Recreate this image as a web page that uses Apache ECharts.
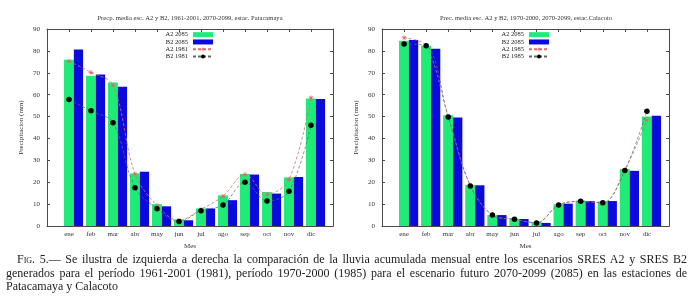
<!DOCTYPE html>
<html>
<head>
<meta charset="utf-8">
<script src="https://cdn.jsdelivr.net/npm/echarts@6/dist/echarts.min.js"></script>
<style>
  html, body { margin: 0; padding: 0; background: #fff; }
  #wrap { position: relative; width: 698px; height: 297px; overflow: hidden; }
  #chart { position: absolute; left: 0; top: 0; width: 698px; height: 297px; }
  #caption {
    position: absolute; left: 6px; top: 253px; width: 681px;
    font-family: 'Liberation Serif', serif; font-size: 12px; line-height: 13.5px; color: #222;
  }
  #caption .j { text-align: justify; text-align-last: justify; white-space: nowrap; }
  #caption .fig { font-variant: small-caps; }
</style>
</head>
<body>
<div id="wrap">
  <div id="chart"></div>
  <div id="caption">
    <div class="j" style="padding-left: 11px"><span class="fig">Fig. 5.</span>— Se ilustra de izquierda a derecha la comparación de la lluvia acumulada mensual entre los escenarios SRES A2 y SRES B2</div>
    <div class="j">generados para el período 1961-2001 (1981), período 1970-2000 (1985) para el escenario futuro 2070-2099 (2085) en las estaciones de</div>
    <div>Patacamaya y Calacoto</div>
  </div>
</div>
<script>
  const months = ['ene', 'feb', 'mar', 'abr', 'may', 'jun', 'jul', 'ago', 'sep', 'oct', 'nov', 'dic']
  const yTicks = [0, 10, 20, 30, 40, 50, 60, 70, 80, 90]

  // Patacamaya
  const patA2_2085 = [76, 68.6, 65.6, 24, 10, 3, 8, 14, 23.8, 15.5, 22.2, 58.2]
  const patB2_2085 = [80.6, 69.2, 63.6, 24.8, 9, 2.6, 8, 11.8, 23.5, 14.8, 22.4, 58]
  const patA2_1981 = [75.3, 70.2, 64.3, 23.8, 9.4, 2.5, 7.6, 13.6, 23.6, 14.5, 21.3, 58.6]
  const patB2_1981 = [57.8, 52.6, 47.2, 17.5, 7.9, 2, 7, 9.6, 20, 11.4, 15.9, 46]

  // Calacoto
  const calA2_2085 = [84.6, 82.4, 50.6, 18.8, 5, 3.3, 1.8, 10, 11.6, 11.2, 26, 50]
  const calB2_2085 = [85, 81, 49.6, 18.6, 5, 3.2, 1.4, 10.2, 11.4, 11.4, 25.2, 50.4]
  const calA2_1985 = [86, 82.2, 50, 18.5, 5, 3, 1.5, 9.6, 11.2, 10.6, 25.5, 48.5]
  const calB2_1985 = [83.2, 82.3, 49.8, 18.3, 5, 3.1, 1.4, 9.6, 11.3, 10.6, 25.4, 52.4]

  const GREEN = '#1fec76'
  const BLUE = '#0a0adc'
  const RED = '#e06a6a'
  const FONT = 'Liberation Serif'
  const AX = '#4a4a4a'
  const STAR = 'path://M-0.6,-5H0.6V5H-0.6Z M-5,-0.6H5V0.6H-5Z M-3.9,-3.1L-3.1,-3.9L3.9,3.1L3.1,3.9Z M3.1,-3.9L3.9,-3.1L-3.1,3.9L-3.9,3.1Z'

  const toXY = arr => arr.map((v, i) => [i, v])

  function barRender (lo, hi) {
    return function (params, api) {
      const x = api.value(0)
      const p0 = api.coord([x + lo, 0])
      const p1 = api.coord([x + hi, api.value(1)])
      return {
        type: 'rect',
        shape: { x: p0[0], y: p1[1], width: p1[0] - p0[0], height: p0[1] - p1[1] },
        style: api.style(),
      }
    }
  }

  const grids = [
    { left: 47, top: 29, width: 286, height: 197 },
    { left: 382, top: 29, width: 287, height: 197 },
  ]

  const xAxes = []
  const yAxes = []
  grids.forEach((g, gi) => {
    const base = {
      gridIndex: gi, type: 'value', min: -1, max: 12, interval: 1,
      axisLine: { show: true, onZero: false, lineStyle: { color: AX, width: 1 } },
      axisTick: { show: true, inside: true, length: 3, lineStyle: { color: AX } },
      splitLine: { show: false },
    }
    xAxes.push(Object.assign({}, base, {
      position: 'bottom',
      name: 'Mes', nameLocation: 'middle', nameGap: 17,
      nameTextStyle: { fontFamily: FONT, fontSize: 7, color: '#333' },
      axisTick: { show: false },
      axisLabel: {
        fontFamily: FONT, fontSize: 7, color: '#333', margin: 5,
        formatter: v => months[v] || '',
      },
    }))
    xAxes.push(Object.assign({}, base, { position: 'top', axisLabel: { show: false } }))
    const ybase = {
      gridIndex: gi, type: 'value', min: yTicks[0], max: yTicks[yTicks.length - 1], interval: 10,
      axisLine: { show: true, onZero: false, lineStyle: { color: AX, width: 1 } },
      axisTick: { show: true, inside: true, length: 3, lineStyle: { color: AX } },
      splitLine: { show: false },
    }
    yAxes.push(Object.assign({}, ybase, {
      position: 'left',
      name: 'Precipitacion (mm)', nameLocation: 'middle', nameGap: 22,
      nameTextStyle: { fontFamily: FONT, fontSize: 7, color: '#333' },
      axisLabel: { fontFamily: FONT, fontSize: 7, color: '#333', margin: 7 },
    }))
    yAxes.push(Object.assign({}, ybase, { position: 'right', axisLabel: { show: false } }))
  })

  function chartSeries (gi, a2, b2, a2old, b2old, oldName) {
    const xi = gi * 2
    const yi = gi * 2
    return [
      {
        name: 'A2 2085', type: 'custom', xAxisIndex: xi, yAxisIndex: yi,
        renderItem: barRender(-0.23, 0.22), itemStyle: { color: GREEN },
        encode: { x: 0, y: 1 }, data: toXY(a2), z: 2,
      },
      {
        name: 'B2 2085', type: 'custom', xAxisIndex: xi, yAxisIndex: yi,
        renderItem: barRender(0.22, 0.64), itemStyle: { color: BLUE },
        encode: { x: 0, y: 1 }, data: toXY(b2), z: 2,
      },
      {
        name: 'A2 ' + oldName, type: 'line', xAxisIndex: xi, yAxisIndex: yi,
        data: toXY(a2old), smooth: 0.35, symbol: STAR, symbolSize: 5,
        lineStyle: { color: RED, width: 0.8, type: [3, 2] }, itemStyle: { color: RED },
        z: 4,
      },
      {
        name: 'B2 ' + oldName, type: 'line', xAxisIndex: xi, yAxisIndex: yi,
        data: toXY(b2old), smooth: 0.35, symbol: 'circle', symbolSize: 5.5,
        lineStyle: { color: '#666', width: 0.7, type: [3, 2] }, itemStyle: { color: '#000' },
        z: 5,
      },
    ]
  }

  function legendFor (right, oldName) {
    return {
      orient: 'vertical', align: 'right', right: right, top: 31,
      itemWidth: 20, itemHeight: 5, itemGap: 0, padding: 0,
      textStyle: { fontFamily: FONT, fontSize: 6.5, lineHeight: 7.3, color: '#222', padding: [0, 0, 0, 0] },
      selectedMode: false,
      data: [
        { name: 'A2 2085', icon: 'rect' },
        { name: 'B2 2085', icon: 'rect' },
        { name: 'A2 ' + oldName },
        { name: 'B2 ' + oldName },
      ],
    }
  }

  const chart = echarts.init(document.getElementById('chart'), null, { renderer: 'canvas' })
  chart.setOption({
    animation: false,
    backgroundColor: '#fff',
    grid: grids,
    xAxis: xAxes,
    yAxis: yAxes,
    legend: [legendFor(484, '1981'), legendFor(148, '1985')],
    graphic: [
      {
        type: 'text', x: 190, y: 18,
        style: { text: 'Precp. media esc. A2 y B2, 1961-2001, 2070-2099, estac. Patacamaya', fontFamily: FONT, fontSize: 6.6, fill: '#333', textAlign: 'center', textVerticalAlign: 'middle' },
      },
      {
        type: 'text', x: 526, y: 18,
        style: { text: 'Prec. media esc. A2 y B2, 1970-2000, 2070-2099, estac.Calacoto', fontFamily: FONT, fontSize: 6.6, fill: '#333', textAlign: 'center', textVerticalAlign: 'middle' },
      },
    ],
    series: [
      ...chartSeries(0, patA2_2085, patB2_2085, patA2_1981, patB2_1981, '1981'),
      ...chartSeries(1, calA2_2085, calB2_2085, calA2_1985, calB2_1985, '1985'),
    ],
  })
</script>
</body>
</html>
